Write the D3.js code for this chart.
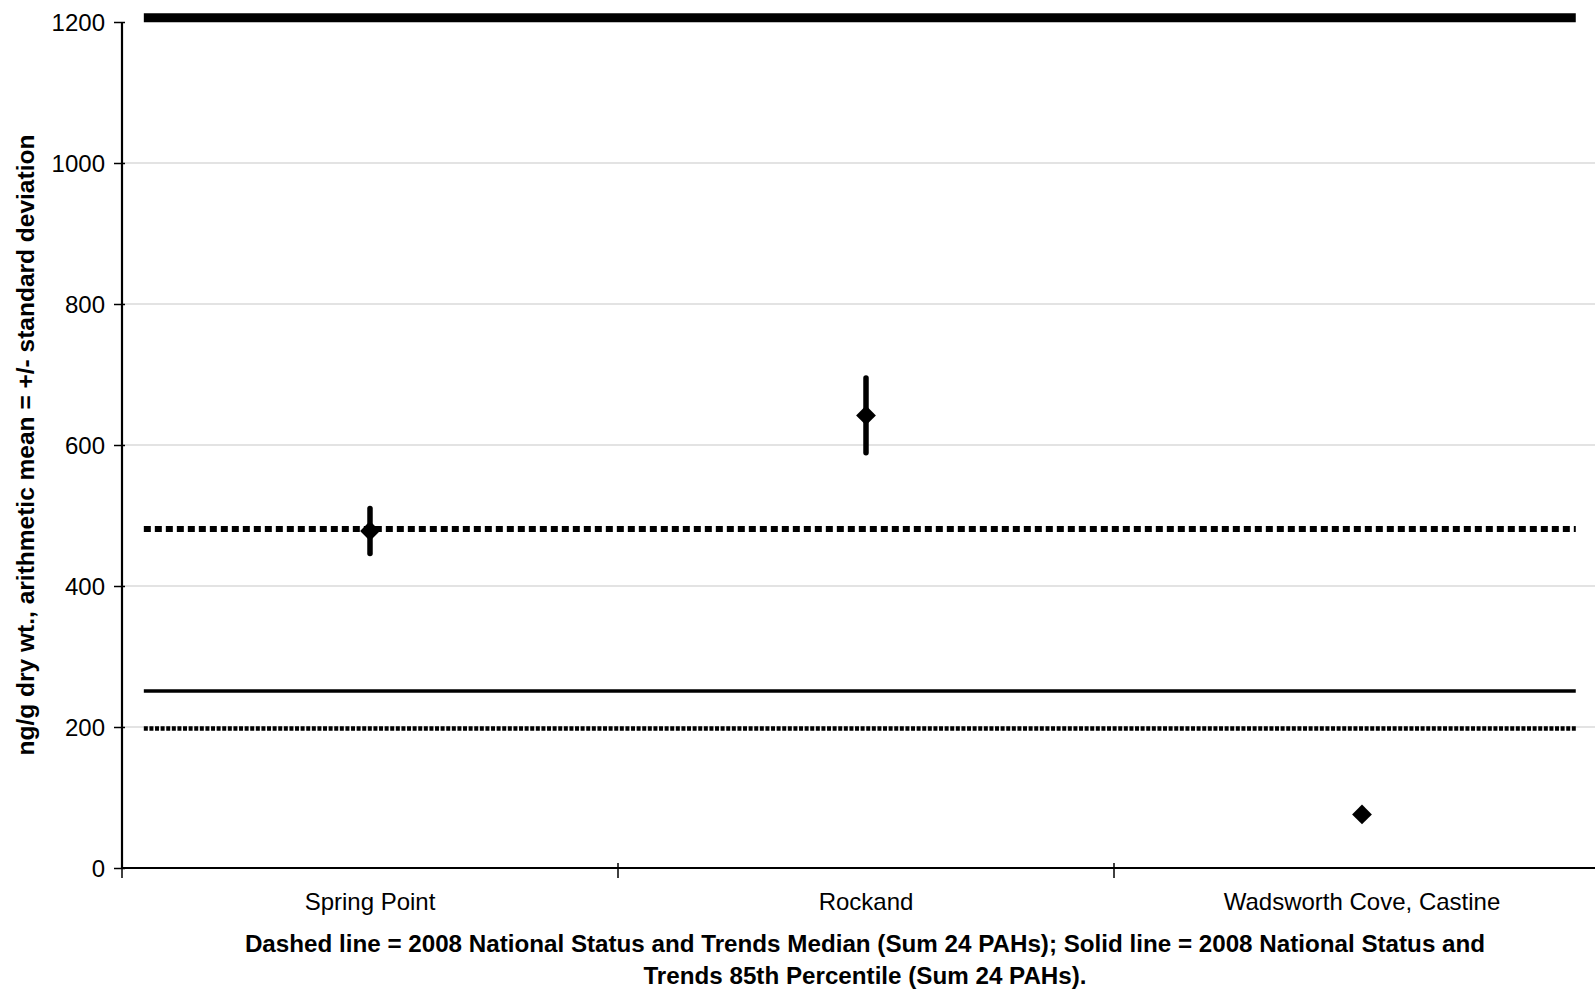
<!DOCTYPE html>
<html><head><meta charset="utf-8">
<script src="https://cdn.jsdelivr.net/npm/d3@7"></script>
<style>body{margin:0;background:#fff;} text{font-family:"Liberation Sans",Arial,sans-serif;}</style>
</head><body>
<svg id="chart" width="1595" height="990"></svg>
<script>
const categories = ["Spring Point", "Rockand", "Wadsworth Cove, Castine"];
const means = [478, 642, 76];
const stdevs = [32, 53, 0];
const yTicks = [0, 200, 400, 600, 800, 1000, 1200];
// reference lines: value, style
const refValues = [1206, 481, 251, 198];
const refStyles = ["solidThick", "dotted", "solid", "dottedFine"];
const refStart = 0.044, refEnd = 2.931; // in category units
const yTitle = "ng/g dry wt., arithmetic mean = +/- standard deviation";
const caption = ["Dashed line = 2008 National Status and Trends Median (Sum 24 PAHs); Solid line = 2008 National Status and",
                 "Trends 85th Percentile (Sum 24 PAHs)."];

(function () {
const svg = d3.select("#chart");
const mLeft = 122, mRight = 1610, mTop = 22, mBottom = 868;
const y = d3.scaleLinear().domain([0, 1200]).range([mBottom, mTop]);
const x = d3.scaleBand().domain(categories).range([mLeft, mRight]).padding(0);
const xc = d3.scaleLinear().domain([0, categories.length]).range([mLeft, mRight]);

// gridlines
svg.append("g").selectAll("line").data(yTicks.filter(d => d > 0 && d < 1200)).join("line")
  .attr("x1", mLeft).attr("x2", mRight).attr("y1", d => y(d)).attr("y2", d => y(d))
  .attr("stroke", "#c8c8c8").attr("stroke-width", 1.2);

// reference lines
const styleMap = {
  solidThick: {w: 9, dash: null},
  dotted: {w: 6, dash: "7,4"},
  solid: {w: 3.5, dash: null},
  dottedFine: {w: 4.5, dash: "4,1.6"}
};
svg.append("g").selectAll("line").data(refValues).join("line")
  .attr("x1", xc(refStart)).attr("x2", xc(refEnd))
  .attr("y1", d => y(d)).attr("y2", d => y(d))
  .attr("stroke", "#000")
  .attr("stroke-width", (d, i) => styleMap[refStyles[i]].w)
  .attr("stroke-dasharray", (d, i) => styleMap[refStyles[i]].dash);

// y axis
const yAxis = d3.axisLeft(y).tickValues(yTicks).tickFormat(d3.format("d")).tickSize(7).tickPadding(10);
const gy = svg.append("g").attr("transform", `translate(${mLeft},0)`).call(yAxis);
gy.select(".domain").attr("stroke", "#000").attr("stroke-width", 2.2).attr("d", `M0,${mTop}V${mBottom}`);
gy.selectAll(".tick line").attr("stroke", "#000").attr("stroke-width", 1.5).attr("x2", -8).attr("x1", 3);
gy.selectAll(".tick text").attr("font-size", 24).attr("fill", "#000")
  .style("font-family", "'Liberation Sans', Arial, sans-serif").attr("dy", "0.36em");

// x axis
const gx = svg.append("g").attr("transform", `translate(0,${mBottom})`);
gx.append("line").attr("x1", mLeft).attr("x2", mRight).attr("y1", 0).attr("y2", 0)
  .attr("stroke", "#000").attr("stroke-width", 2.2);
gx.selectAll(".xtick").data(d3.range(categories.length + 1)).join("line")
  .attr("class", "xtick")
  .attr("x1", d => xc(d)).attr("x2", d => xc(d)).attr("y1", d => d === 0 ? 0 : -5).attr("y2", 10)
  .attr("stroke", "#000").attr("stroke-width", 1.5);
gx.selectAll(".xlab").data(categories).join("text")
  .attr("class", "xlab")
  .attr("x", d => x(d) + x.bandwidth() / 2).attr("y", 42)
  .attr("text-anchor", "middle").attr("font-size", 24).attr("fill", "#000").text(d => d);

// error bars
const pts = categories.map((c, i) => ({c, m: means[i], s: stdevs[i]}));
svg.append("g").selectAll("line").data(pts.filter(d => d.s > 0)).join("line")
  .attr("x1", d => x(d.c) + x.bandwidth() / 2).attr("x2", d => x(d.c) + x.bandwidth() / 2)
  .attr("y1", d => y(d.m + d.s)).attr("y2", d => y(d.m - d.s))
  .attr("stroke", "#000").attr("stroke-width", 5.5).attr("stroke-linecap", "round");
svg.append("g").selectAll("path").data(pts).join("path")
  .attr("transform", d => `translate(${x(d.c) + x.bandwidth() / 2},${y(d.m)})`)
  .attr("d", d3.symbol().type(d3.symbolDiamond2).size(250))
  .attr("fill", "#000");

// y title
svg.append("text").attr("transform", `translate(34,${(135 + 755) / 2}) rotate(-90)`)
  .attr("text-anchor", "middle").attr("font-size", 24.5).attr("font-weight", "bold").attr("fill", "#000")
  .text(yTitle);

// caption
svg.append("g").selectAll("text").data(caption).join("text")
  .attr("x", 865).attr("y", (d, i) => 952 + i * 32)
  .attr("text-anchor", "middle").attr("font-size", 24.2).attr("font-weight", "bold").attr("fill", "#000")
  .text(d => d);
})();
</script>
</body></html>
